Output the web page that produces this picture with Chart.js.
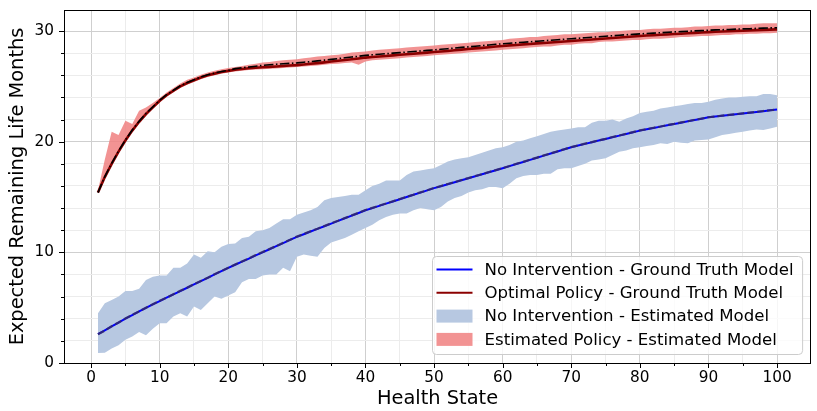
<!DOCTYPE html>
<html>
<head>
<meta charset="utf-8">
<script src="https://cdn.jsdelivr.net/npm/chart.js@4.4.1/dist/chart.umd.min.js"></script>
<style>
  html, body { margin: 0; padding: 0; background: #fff; }
  #wrap { width: 817px; height: 411px; }
</style>
</head>
<body>
<div id="wrap"><canvas id="chart"></canvas></div>
<script>
// Health states on the x axis
let healthStates = [1, 2, 3, 4, 5, 6, 7, 8, 9, 10, 11, 12, 13, 14, 15, 16, 17, 18, 19, 20,
    21, 22, 23, 24, 25, 26, 27, 28, 29, 30, 31, 32, 33, 34, 35, 36, 37, 38, 39, 40,
    41, 42, 43, 44, 45, 46, 47, 48, 49, 50, 51, 52, 53, 54, 55, 56, 57, 58, 59, 60,
    61, 62, 63, 64, 65, 66, 67, 68, 69, 70, 71, 72, 73, 74, 75, 76, 77, 78, 79, 80,
    81, 82, 83, 84, 85, 86, 87, 88, 89, 90, 91, 92, 93, 94, 95, 96, 97, 98, 99, 100];

// No intervention - ground truth model
let noIntTruth = [2.6, 2.95, 3.3, 3.65, 4.0, 4.33, 4.66, 4.98, 5.3, 5.6, 5.9, 6.2, 6.5, 6.8, 7.1, 7.4, 7.7, 8.0, 8.3, 8.6,
    8.88, 9.16, 9.44, 9.72, 10.0, 10.28, 10.56, 10.84, 11.12, 11.4, 11.64, 11.88, 12.12, 12.36, 12.6, 12.84, 13.08, 13.32, 13.56, 13.8,
    14.0, 14.2, 14.4, 14.6, 14.8, 15.0, 15.2, 15.4, 15.6, 15.8, 15.98, 16.16, 16.34, 16.52, 16.7, 16.88, 17.06, 17.24, 17.42, 17.6,
    17.79, 17.98, 18.17, 18.36, 18.55, 18.74, 18.93, 19.12, 19.31, 19.5, 19.65, 19.8, 19.95, 20.1, 20.25, 20.4, 20.55, 20.7, 20.85, 21.0,
    21.12, 21.24, 21.36, 21.48, 21.6, 21.72, 21.84, 21.96, 22.08, 22.2, 22.27, 22.34, 22.41, 22.48, 22.55, 22.62, 22.69, 22.76, 22.83, 22.9];

// No intervention - estimated model (mean, low, high)
let noIntEst = [2.6, 2.93, 3.32, 3.66, 4.02, 4.35, 4.65, 5.0, 5.31, 5.62, 5.9, 6.22, 6.52, 6.8, 7.12, 7.42, 7.7, 8.02, 8.31, 8.6,
    8.9, 9.18, 9.45, 9.75, 10.03, 10.3, 10.57, 10.86, 11.13, 11.42, 11.66, 11.9, 12.13, 12.38, 12.62, 12.85, 13.1, 13.34, 13.57, 13.82,
    14.02, 14.22, 14.41, 14.62, 14.82, 15.02, 15.21, 15.42, 15.61, 15.82, 16.0, 16.18, 16.35, 16.54, 16.71, 16.9, 17.07, 17.26, 17.43, 17.62,
    17.8, 18.0, 18.18, 18.38, 18.56, 18.76, 18.94, 19.14, 19.32, 19.52, 19.66, 19.82, 19.96, 20.12, 20.26, 20.42, 20.56, 20.72, 20.86, 21.02,
    21.13, 21.26, 21.37, 21.5, 21.61, 21.74, 21.85, 21.98, 22.09, 22.21, 22.28, 22.35, 22.42, 22.49, 22.56, 22.63, 22.7, 22.77, 22.84, 22.9];
let noIntLow = [0.9, 0.93, 1.3, 1.6, 2.1, 2.4, 2.8, 2.5, 3.1, 3.6, 3.6, 4.2, 4.5, 4.2, 5.1, 4.8, 5.4, 6.0, 5.8, 6.1,
    6.4, 7.3, 7.6, 7.6, 7.9, 8.0, 8.0, 8.6, 8.3, 9.6, 9.8, 9.7, 9.6, 10.4, 10.9, 11.1, 11.3, 11.6, 11.9, 12.2,
    12.5, 12.9, 13.2, 13.4, 13.5, 13.5, 13.8, 14.0, 13.9, 13.8, 14.1, 14.6, 14.9, 15.1, 15.4, 15.6, 15.7, 15.9, 15.9, 15.8,
    16.2, 16.7, 16.9, 17.0, 17.0, 17.1, 17.1, 17.5, 17.6, 17.6, 17.8, 18.0, 18.3, 18.4, 18.5, 18.8, 19.1, 19.2, 19.4, 19.5,
    19.6, 19.7, 19.85, 19.8, 20.0, 19.9, 19.85, 20.1, 20.15, 20.2, 20.4, 20.6, 20.7, 20.8, 20.9, 21.0, 21.1, 21.05, 21.2, 21.35];
let noIntHigh = [4.5, 5.4, 5.7, 6.0, 6.5, 6.5, 6.7, 7.5, 7.8, 7.9, 7.9, 8.6, 8.6, 9.0, 9.8, 9.5, 10.1, 10.0, 10.5, 10.75,
    10.8, 11.3, 11.4, 11.9, 12.0, 12.2, 12.6, 13.0, 13.0, 13.4, 13.6, 13.8, 14.1, 14.7, 14.9, 15.0, 15.1, 15.2, 15.2, 15.6,
    16.0, 16.2, 16.5, 16.5, 16.5, 17.0, 17.3, 17.4, 17.5, 17.6, 17.9, 18.2, 18.4, 18.5, 18.6, 18.8, 19.0, 19.2, 19.4, 19.5,
    19.7, 20.0, 20.1, 20.3, 20.5, 20.7, 20.9, 21.0, 21.1, 21.2, 21.3, 21.3, 21.7, 21.9, 21.9, 22.0, 21.8, 22.1, 22.3, 22.6,
    22.7, 22.8, 23.0, 23.1, 23.2, 23.3, 23.4, 23.5, 23.5, 23.6, 23.8, 23.9, 24.0, 24.0, 24.05, 24.1, 24.1, 24.3, 24.3, 24.2];

// Optimal policy - ground truth model
let optTruth = [15.4, 16.8, 18.0, 19.1, 20.1, 21.0, 21.8, 22.5, 23.1, 23.7, 24.2, 24.6, 25.0, 25.3, 25.55, 25.8, 26.0, 26.15, 26.3, 26.4,
    26.5, 26.57, 26.63, 26.68, 26.72, 26.76, 26.8, 26.84, 26.88, 26.92, 26.98, 27.04, 27.1, 27.17, 27.24, 27.31, 27.38, 27.45, 27.52, 27.6,
    27.65, 27.7, 27.75, 27.8, 27.85, 27.9, 27.95, 28.0, 28.05, 28.1, 28.15, 28.2, 28.26, 28.32, 28.37, 28.43, 28.48, 28.54, 28.6, 28.65,
    28.7, 28.74, 28.79, 28.83, 28.88, 28.92, 28.97, 29.01, 29.06, 29.1, 29.15, 29.19, 29.24, 29.28, 29.33, 29.37, 29.42, 29.46, 29.5, 29.55,
    29.59, 29.62, 29.66, 29.69, 29.73, 29.76, 29.8, 29.83, 29.87, 29.9, 29.93, 29.96, 29.98, 30.01, 30.03, 30.06, 30.08, 30.1, 30.13, 30.15];

// Estimated policy - estimated model (mean, low, high)
let estPolicy = [15.4, 16.85, 18.05, 19.15, 20.15, 21.05, 21.85, 22.55, 23.15, 23.75, 24.25, 24.65, 25.05, 25.35, 25.6, 25.85, 26.05, 26.2, 26.35, 26.45,
    26.6, 26.68, 26.75, 26.82, 26.9, 26.95, 27.0, 27.04, 27.08, 27.12, 27.18, 27.24, 27.3, 27.37, 27.44, 27.51, 27.58, 27.65, 27.72, 27.8,
    27.85, 27.9, 27.95, 28.0, 28.05, 28.1, 28.15, 28.2, 28.25, 28.3, 28.35, 28.4, 28.46, 28.52, 28.57, 28.63, 28.68, 28.74, 28.8, 28.85,
    28.9, 28.94, 28.99, 29.03, 29.08, 29.12, 29.17, 29.21, 29.26, 29.3, 29.35, 29.39, 29.44, 29.48, 29.53, 29.57, 29.62, 29.66, 29.7, 29.74,
    29.78, 29.81, 29.85, 29.88, 29.92, 29.95, 29.98, 30.01, 30.04, 30.07, 30.1, 30.12, 30.14, 30.17, 30.19, 30.21, 30.24, 30.26, 30.28, 30.3];
let estPolicyLow = [15.3, 16.6, 17.85, 18.95, 19.95, 20.85, 21.65, 22.35, 22.95, 23.55, 24.05, 24.45, 24.85, 25.15, 25.4, 25.65, 25.85, 26.0, 26.15, 26.25,
    26.35, 26.42, 26.48, 26.52, 26.55, 26.58, 26.62, 26.66, 26.7, 26.74, 26.8, 26.85, 26.88, 26.95, 27.02, 27.05, 27.1, 27.15, 26.95, 27.25,
    27.35, 27.4, 27.45, 27.5, 27.55, 27.6, 27.65, 27.7, 27.75, 27.8, 27.85, 27.9, 27.95, 28.0, 28.05, 28.1, 28.15, 28.2, 28.25, 28.3,
    28.35, 28.4, 28.45, 28.5, 28.55, 28.6, 28.6, 28.7, 28.75, 28.75, 28.85, 28.9, 28.9, 29.0, 29.05, 29.05, 29.1, 29.15, 29.2, 29.2,
    29.25, 29.3, 29.3, 29.35, 29.4, 29.45, 29.45, 29.5, 29.55, 29.55, 29.6, 29.65, 29.65, 29.7, 29.7, 29.75, 29.75, 29.8, 29.8, 29.85];
let estPolicyHigh = [15.6, 18.4, 20.9, 20.6, 21.9, 21.6, 22.8, 23.1, 23.5, 23.95, 24.45, 24.85, 25.25, 25.6, 25.8, 26.05, 26.25, 26.4, 26.55, 26.65,
    26.75, 26.85, 26.95, 27.05, 27.15, 27.2, 27.3, 27.35, 27.4, 27.45, 27.55, 27.6, 27.7, 27.75, 27.8, 27.85, 27.95, 28.05, 28.1, 28.15,
    28.25, 28.3, 28.35, 28.4, 28.45, 28.5, 28.55, 28.6, 28.65, 28.7, 28.75, 28.8, 28.85, 28.9, 28.95, 29.0, 29.05, 29.1, 29.15, 29.2,
    29.3, 29.35, 29.4, 29.45, 29.45, 29.55, 29.6, 29.65, 29.7, 29.7, 29.75, 29.8, 29.85, 29.9, 29.9, 29.95, 30.0, 30.05, 30.1, 30.1,
    30.15, 30.2, 30.2, 30.25, 30.3, 30.3, 30.35, 30.4, 30.4, 30.45, 30.5, 30.5, 30.55, 30.55, 30.6, 30.6, 30.65, 30.7, 30.7, 30.7];

let legendNames = [
    "No Intervention - Ground Truth Model",
    "Optimal Policy - Ground Truth Model",
    "No Intervention - Estimated Model",
    "Estimated Policy - Estimated Model"
];

let BLUE = "#0000ff";
let DARKRED = "#8b0000";
let BLUE_BAND = "#b7c8e1";
let RED_BAND = "rgba(240, 128, 128, 0.85)";
let FONT = "'DejaVu Sans', sans-serif";

function points(values) {
    return healthStates.map(function (h, i) {
        return {x: h, y: values[i]};
    });
}

function band(values, fill, color, order) {
    return {
        data: points(values),
        borderWidth: 0,
        borderColor: "rgba(0,0,0,0)",
        backgroundColor: color,
        pointRadius: 0,
        fill: fill,
        order: order
    };
}

function line(values, color, width, dash, order) {
    return {
        data: points(values),
        borderColor: color,
        borderWidth: width,
        borderDash: dash,
        pointRadius: 0,
        fill: false,
        order: order
    };
}

// Tick marks (major / minor) and the frame round the plot
let axisDecor = {
    id: "axisDecor",
    afterDraw(chart) {
        let ctx = chart.ctx;
        let a = chart.chartArea;
        let x = chart.scales.x;
        let y = chart.scales.y;
        ctx.save();
        ctx.strokeStyle = "#000";
        ctx.lineWidth = 1;
        ctx.beginPath();
        x.ticks.forEach(function (t) {
            let px = Math.round(x.getPixelForValue(t.value)) + 0.5;
            let len = t.value % 10 === 0 ? 5 : 3;
            ctx.moveTo(px, Math.round(a.bottom));
            ctx.lineTo(px, Math.round(a.bottom) + len);
        });
        y.ticks.forEach(function (t) {
            let py = Math.round(y.getPixelForValue(t.value)) + 0.5;
            let len = t.value % 10 === 0 ? 5 : 3;
            ctx.moveTo(Math.round(a.left), py);
            ctx.lineTo(Math.round(a.left) - len, py);
        });
        ctx.stroke();
        ctx.strokeRect(Math.round(a.left) + 0.5, Math.round(a.top) + 0.5,
            Math.round(a.right) - Math.round(a.left) - 1, Math.round(a.bottom) - Math.round(a.top));
        ctx.restore();
    }
};

// Legend drawn inside the plot, lower right
let legendBox = {
    id: "legendBox",
    afterDraw(chart) {
        let ctx = chart.ctx;
        let a = chart.chartArea;
        let items = [
            {type: "line", color: BLUE},
            {type: "line", color: DARKRED},
            {type: "patch", color: BLUE_BAND},
            {type: "patch", color: RED_BAND}
        ];
        ctx.save();
        ctx.font = "16.6px " + FONT;
        let textW = Math.max.apply(null, legendNames.map(function (n) { return ctx.measureText(n).width; }));
        let w = 5 + 36 + 12 + textW + 8;
        let h = 98;
        let x0 = Math.round(a.right - 9 - w) + 0.5;
        let y0 = Math.round(a.bottom - 9 - h) + 0.5;
        let r = 4;
        ctx.beginPath();
        ctx.moveTo(x0 + r, y0);
        ctx.lineTo(x0 + w - r, y0);
        ctx.quadraticCurveTo(x0 + w, y0, x0 + w, y0 + r);
        ctx.lineTo(x0 + w, y0 + h - r);
        ctx.quadraticCurveTo(x0 + w, y0 + h, x0 + w - r, y0 + h);
        ctx.lineTo(x0 + r, y0 + h);
        ctx.quadraticCurveTo(x0, y0 + h, x0, y0 + h - r);
        ctx.lineTo(x0, y0 + r);
        ctx.quadraticCurveTo(x0, y0, x0 + r, y0);
        ctx.closePath();
        ctx.fillStyle = "rgba(255,255,255,0.8)";
        ctx.fill();
        ctx.strokeStyle = "#cccccc";
        ctx.lineWidth = 1;
        ctx.stroke();
        items.forEach(function (it, i) {
            let cy = y0 + 13 + i * 23.3;
            if (it.type === "line") {
                ctx.strokeStyle = it.color;
                ctx.lineWidth = 2;
                ctx.beginPath();
                ctx.moveTo(x0 + 4, cy);
                ctx.lineTo(x0 + 40, cy);
                ctx.stroke();
            } else {
                ctx.fillStyle = it.color;
                ctx.fillRect(x0 + 4, cy - 6.5, 36, 13);
            }
            ctx.fillStyle = "#000";
            ctx.textBaseline = "middle";
            ctx.textAlign = "left";
            ctx.fillText(legendNames[i], x0 + 52, cy + 1);
        });
        ctx.restore();
    }
};

function gridColor(c) {
    return c.tick && c.tick.value % 10 === 0 ? "#cfcfcf" : "#ececec";
}

new Chart(document.getElementById("chart").getContext("2d"), {
    type: "line",
    data: {
        datasets: [
            band(noIntLow, false, BLUE_BAND, 8),
            band(noIntHigh, "-1", BLUE_BAND, 8),
            band(estPolicyLow, false, RED_BAND, 7),
            band(estPolicyHigh, "-1", RED_BAND, 7),
            line(noIntTruth, BLUE, 2, [], 4),
            line(noIntEst, "rgba(55, 45, 95, 0.8)", 2.2, [7, 3], 3),
            line(optTruth, DARKRED, 2.6, [], 2),
            line(estPolicy, "#000", 1.6, [9.5, 2.5, 1.5, 2.5], 1)
        ]
    },
    options: {
        responsive: true,
        maintainAspectRatio: false,
        animation: false,
        layout: {padding: {left: 0, right: 6, top: 10, bottom: 0}},
        plugins: {
            legend: {display: false},
            tooltip: {enabled: false}
        },
        scales: {
            x: {
                type: "linear",
                min: -3.95,
                max: 104.95,
                afterFit: function (s) {
                    s.height = 48;
                    s.paddingLeft = 0;
                    s.paddingRight = 0;
                },
                border: {display: false},
                grid: {color: gridColor, drawTicks: false, lineWidth: 1},
                ticks: {
                    stepSize: 5,
                    includeBounds: false,
                    autoSkip: false,
                    maxRotation: 0,
                    padding: 6,
                    color: "#000",
                    font: {family: FONT, size: 15.3},
                    callback: function (v) { return v % 10 === 0 ? String(v) : ""; }
                },
                title: {
                    display: true,
                    text: "Health State",
                    color: "#000",
                    font: {family: FONT, size: 19.4},
                    padding: {top: 0, bottom: 0}
                }
            },
            y: {
                type: "linear",
                min: 0,
                max: 31.9,
                afterFit: function (s) {
                    s.width = 64;
                    s.paddingTop = 0;
                    s.paddingBottom = 0;
                },
                border: {display: false},
                grid: {color: gridColor, drawTicks: false, lineWidth: 1},
                ticks: {
                    stepSize: 2,
                    includeBounds: false,
                    autoSkip: false,
                    padding: 10,
                    color: "#000",
                    font: {family: FONT, size: 15.3},
                    callback: function (v) { return v % 10 === 0 ? String(v) : ""; }
                },
                title: {
                    display: true,
                    text: "Expected Remaining Life Months",
                    color: "#000",
                    font: {family: FONT, size: 19.4},
                    padding: {top: 6, bottom: 0}
                }
            }
        }
    },
    plugins: [axisDecor, legendBox]
});
</script>
</body>
</html>
